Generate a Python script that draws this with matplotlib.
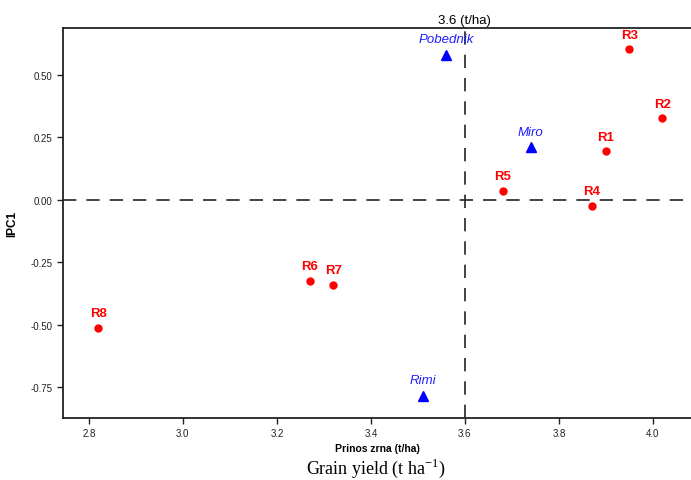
import matplotlib
matplotlib.use('Agg')
import matplotlib.pyplot as plt

# environments (red circles)
ENV_NAMES = ['R1', 'R2', 'R3', 'R4', 'R5', 'R6', 'R7', 'R8']
ENV_YIELD = [3.90, 4.02, 3.95, 3.87, 3.68, 3.27, 3.32, 2.82]
ENV_IPC1 = [0.196, 0.328, 0.604, -0.024, 0.036, -0.324, -0.340, -0.512]

# genotypes (blue triangles)
GEN_NAMES = ['Pobednik', 'Miro', 'Rimi']
GEN_YIELD = [3.56, 3.74, 3.51]
GEN_IPC1 = [0.58, 0.21, -0.784]

MEAN_YIELD = 3.6
X_TICKS = [2.8, 3.0, 3.2, 3.4, 3.6, 3.8, 4.0]
Y_TICKS = [0.50, 0.25, 0.00, -0.25, -0.50, -0.75]

plt.rcParams['font.family'] = ['Liberation Sans', 'DejaVu Sans']

fig = plt.figure(figsize=(6.91, 4.81), dpi=100)
ax = fig.add_axes([63 / 691, 62 / 481, 1 - 63 / 691, 390 / 481])

ax.axhline(0, color='#222222', lw=1.2, dashes=(8, 6))
ax.axvline(MEAN_YIELD, color='#222222', lw=1.2, dashes=(8, 6))

ax.plot(ENV_YIELD, ENV_IPC1, 'o', color='red', ms=5, ls='none')
ax.plot(GEN_YIELD, GEN_IPC1, '^', color='blue', ms=7, ls='none')

for name, x, y in zip(ENV_NAMES, ENV_YIELD, ENV_IPC1):
    ax.annotate(name, (x, y), xytext=(0, 6), textcoords='offset points',
                ha='center', va='bottom', color='red', fontweight='bold', fontsize=9.5)
for name, x, y in zip(GEN_NAMES, GEN_YIELD, GEN_IPC1):
    ax.annotate(name, (x, y), xytext=(0, 7), textcoords='offset points',
                ha='center', va='bottom', color='#2020ff', fontstyle='italic', fontsize=9.5)

ax.set_xlim(2.745, 4.081)
ax.set_ylim(-0.874, 0.688)
ax.set_xticks(X_TICKS)
ax.set_xticklabels(['%.1f' % v for v in X_TICKS])
ax.set_yticks(Y_TICKS)
ax.set_yticklabels(['%.2f' % v for v in Y_TICKS])
ax.tick_params(labelsize=7, length=4, width=1, direction='out', colors='#222222')
ax.spines['right'].set_visible(False)
for s in ['left', 'bottom', 'top']:
    ax.spines[s].set_linewidth(1.3)
    ax.spines[s].set_color('#222222')

ax.set_ylabel('IPC1', fontweight='bold', fontsize=8.5)
ax.yaxis.set_label_coords(-45 / 628, 0.5)
ax.set_xlabel('Prinos zrna (t/ha)', fontweight='bold', fontsize=7.5, labelpad=3)

ax.text(MEAN_YIELD, 1.005, '%.1f (t/ha)' % MEAN_YIELD, transform=ax.get_xaxis_transform(),
        ha='center', va='bottom', fontsize=9.5)

fig.text(376 / 691, 1 - 468 / 481, 'Grain yield (t ha$^{\\mathregular{-1}}$)',
         family='Liberation Serif', fontsize=13, ha='center', va='center')

fig.savefig('out.png', dpi=100)
